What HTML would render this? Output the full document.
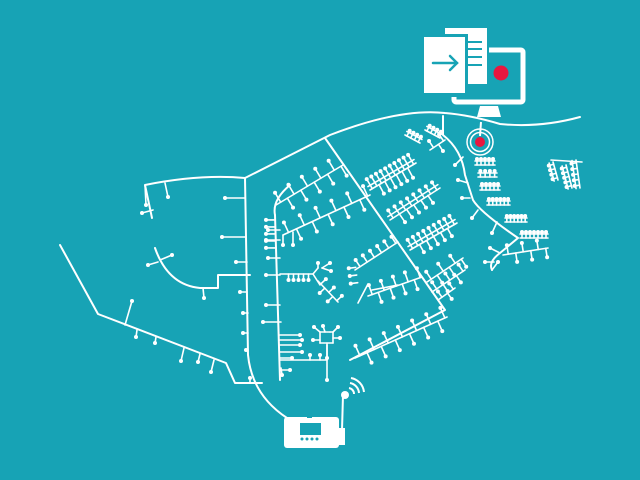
<!DOCTYPE html>
<html><head><meta charset="utf-8"><style>
html,body{margin:0;padding:0;background:#17a3b5;width:640px;height:480px;overflow:hidden}
svg{display:block}
</style></head><body>
<svg id="s" width="640" height="480" viewBox="0 0 640 480" xmlns="http://www.w3.org/2000/svg">
<rect width="640" height="480" fill="#17a3b5"/>
<g id="roads" fill="none" stroke="#fff" stroke-width="2" stroke-linecap="round" stroke-linejoin="round">
<path d="M245,178 L330,135 Q400,108 445,113 Q470,115 500,124 Q540,128 580,117"/>
<path d="M245,178 L248,355 Q252,395 287,418"/>
<path d="M245,178 Q200,174 145,185 L152,218"/>
<path d="M60,245 L98,314 L226,363 L235,383 L262,383"/>
<path d="M155,248 Q168,285 200,288 L218,288 L218,275 L250,275"/>
<path d="M325,138 L445,310 L350,360"/>
<path d="M290,185 Q272,200 275,215 L280,380"/>
<path d="M443,116 L443,135 Q462,150 465,175 L473,200 Q480,212 518,238 L500,253 Q488,262 492,270"/>
<path d="M343,395 L342,430"/>
</g>
<g id="g" fill="none" stroke="#fff" stroke-width="1.6" stroke-linecap="round"></g>
<g id="d" fill="#fff"></g>
<!-- target -->
<line x1="481" y1="122" x2="480" y2="136" stroke="#fff" stroke-width="2"/>
<circle cx="480" cy="142" r="13" fill="none" stroke="#fff" stroke-width="1.5"/>
<circle cx="480" cy="142" r="9.5" fill="none" stroke="#fff" stroke-width="1.5"/>
<circle cx="480" cy="142" r="5" fill="#e8173f"/>
<!-- monitor -->
<rect x="454" y="50" width="69" height="52" rx="2" fill="none" stroke="#fff" stroke-width="5"/>
<path d="M480,106 L498,106 L501,117 L477,117 Z" fill="#fff"/>
<circle cx="501" cy="73" r="7.5" fill="#e8173f"/>
<!-- back doc -->
<rect x="443" y="26" width="46" height="60" fill="#17a3b5"/>
<rect x="445" y="28" width="42" height="56" fill="#fff"/>
<g stroke="#17a3b5" stroke-width="2"><line x1="467" y1="42" x2="482" y2="42"/><line x1="467" y1="49" x2="482" y2="49"/><line x1="467" y1="57" x2="482" y2="57"/><line x1="467" y1="65" x2="482" y2="65"/></g>
<!-- front doc -->
<rect x="421" y="34" width="47" height="63" fill="#17a3b5"/>
<rect x="424" y="37" width="41" height="56" fill="#fff"/>
<g stroke="#17a3b5" stroke-width="2.5" fill="none" stroke-linecap="round"><line x1="433" y1="63" x2="457" y2="63"/><polyline points="450,56 457,63 450,70"/></g>
<!-- device -->
<rect x="284" y="417" width="55" height="31" rx="3" fill="#fff"/>
<rect x="338" y="428" width="7" height="17" fill="#fff"/>
<rect x="300" y="423" width="21" height="12" fill="#17a3b5"/>
<rect x="307" y="416" width="5" height="2" fill="#17a3b5"/>
<g fill="#17a3b5"><circle cx="302" cy="439" r="1.5"/><circle cx="307" cy="439" r="1.5"/><circle cx="312" cy="439" r="1.5"/><circle cx="317" cy="439" r="1.5"/></g>
<circle cx="345" cy="395" r="4" fill="#fff"/>
<g fill="none" stroke="#fff" stroke-width="2"><path d="M349,388 A6,6 0 0 1 354,394"/><path d="M350,383 A11,11 0 0 1 359,393"/><path d="M351,378 A16,16 0 0 1 364,392"/></g>
</svg>
<script>
var G=document.getElementById('g'),D=document.getElementById('d'),ns='http://www.w3.org/2000/svg';
function ln(a,b,c,d){var l=document.createElementNS(ns,'line');l.setAttribute('x1',a);l.setAttribute('y1',b);l.setAttribute('x2',c);l.setAttribute('y2',d);G.appendChild(l);}
function dot(x,y,r){var c=document.createElementNS(ns,'circle');c.setAttribute('cx',x);c.setAttribute('cy',y);c.setAttribute('r',r||2);D.appendChild(c);}
function stub(x1,y1,x2,y2){ln(x1,y1,x2,y2);dot(x2,y2);}
// comb: spine a->b, n teeth, length L, sides: 1,-1, or 0 both; slant
function comb(x1,y1,x2,y2,n,L,side,sl,sp){sl=sl||0;
 if(sp!==false)ln(x1,y1,x2,y2);
 var dx=x2-x1,dy=y2-y1,len=Math.hypot(dx,dy),ux=dx/len,uy=dy/len,px=-uy,py=ux;
 for(var i=0;i<n;i++){var t=(i+0.7)/n,x=x1+dx*t,y=y1+dy*t;
  var ss=side==0?(i%2?1:-1):side;
  stub(x,y,x+(px*ss+ux*sl)*L,y+(py*ss+uy*sl)*L);}}
function ladder(x1,y1,x2,y2,n,L,side){
 var dx=x2-x1,dy=y2-y1,len=Math.hypot(dx,dy),px=-dy/len*side,py=dx/len*side;
 ln(x1,y1,x2,y2);ln(x1+px*4,y1+py*4,x2+px*4,y2+py*4);
 for(var i=0;i<n;i++){var t=(i+0.5)/n,x=x1+dx*t,y=y1+dy*t;stub(x,y,x+px*L,y+py*L);}}
// left area
stub(145,185,146,205);stub(153,210,142,213);stub(165,183,168,197);
stub(160,260,172,255);stub(158,262,148,265);stub(203,288,204,298);
stub(245,198,225,198);stub(246,237,222,237);stub(247,262,236,262);stub(247,292,240,292);
stub(248,333,243,333);stub(248,350,246,350);stub(248,313,243,313);
stub(125,325,132,301);stub(137,330,136,337);stub(156,337,155,343);stub(184,348,181,361);stub(200,354,198,362);stub(214,360,211,372);stub(250,383,250,378);
// region between 245 and 280
stub(280,230,268,230);stub(280,240,266,240);stub(280,258,268,258);stub(280,275,266,275);stub(280,305,266,305);stub(281,322,263,322);
stub(280,345,300,345);stub(280,340,302,340);stub(280,352,302,352);stub(280,358,292,358);stub(280,335,300,335);stub(281,370,290,370);stub(281,368,282,375);
comb(275,215,275,250,5,9,1,0,false);
comb(276,205,343,165,10,11,0);
comb(283,235,370,195,11,11,0);
stub(283,235,283,245);stub(293,232,293,245);
// inner small network
ln(280,274,313,274);comb(285,274,310,274,5,6,1,0,false);
ln(313,274,318,268);stub(318,268,318,263);stub(322,268,330,263);stub(322,268,331,271);
ln(313,274,320,285);comb(318,281,338,302,5,7,0);
ln(320,332,330,332);ln(320,332,320,343);ln(320,343,333,343);ln(333,343,333,332);ln(330,332,333,332);
stub(320,332,314,327);stub(325,332,323,326);stub(333,332,338,327);stub(333,338,340,338);stub(320,340,313,340);stub(327,343,327,358);
ln(280,360,327,360);stub(320,360,320,355);stub(310,360,310,355);stub(327,345,327,380);
// right of diagonal
ladder(370,190,416,163,10,11,-1);comb(375,187,410,168,6,10,1,0,false);
ladder(390,220,440,188,8,9,-1);comb(395,218,430,194,5,9,1,0,false);
ladder(410,250,457,223,9,10,-1);comb(415,248,450,228,5,8,1,0,false);
comb(355,270,398,242,6,8,-1);comb(355,262,358,285,3,7,1,0,false);
ln(368,284,358,303);
ln(372,290,398,285);comb(368,296,422,277,9,10,0);
comb(427,282,463,258,6,9,0);comb(432,292,465,270,5,8,0);comb(438,300,455,288,3,7,0);
comb(355,358,447,317,13,11,0);
comb(430,150,445,140,3,8,0);ladder(405,135,420,143,4,6,-1);ladder(425,130,440,138,4,6,-1);
// right side
stub(463,157,455,165);stub(468,183,458,180);stub(470,198,462,198);
ladder(475,165,495,165,5,6,-1);ladder(478,177,497,177,4,6,-1);ladder(480,190,500,190,5,6,-1);
ladder(487,205,510,205,6,6,-1);ladder(505,222,527,222,6,6,-1);ladder(520,238,548,238,7,6,-1);
stub(478,210,472,218);stub(497,222,492,233);stub(500,253,490,248);
comb(503,255,548,248,6,9,0);stub(492,270,498,262);stub(494,262,485,262);
ladder(553,162,558,180,4,5,1);ladder(566,165,572,188,5,5,1);ladder(576,160,580,188,5,5,1);ln(551,160,582,162);
</script>
</body></html>
